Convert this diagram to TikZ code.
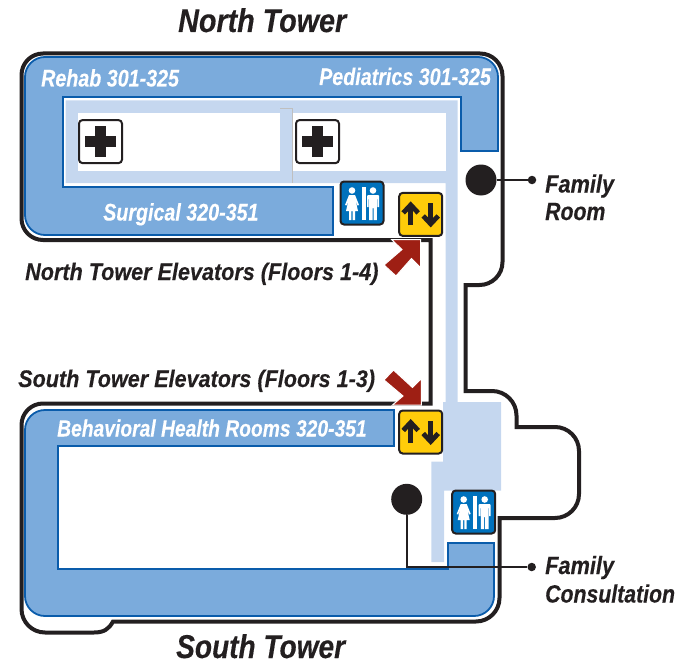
\documentclass[tikz,border=0pt]{standalone}
\usepackage{fontspec}
\setmainfont{Liberation Sans}
\newfontfamily\fsA[FakeStretch=0.82,FakeBold=0.2]{Liberation Sans}
\newfontfamily\fsB[FakeStretch=0.85,FakeBold=0.25]{Liberation Sans}
\newfontfamily\fsC[FakeStretch=0.87,FakeBold=0.25]{Liberation Sans}
\newfontfamily\fsD[FakeStretch=0.90,FakeBold=0.25]{Liberation Sans}
\definecolor{band}{HTML}{7BABDC}
\definecolor{bandline}{HTML}{0A5CAB}
\definecolor{hall}{HTML}{C5D7EF}
\definecolor{ink}{HTML}{231F20}
\definecolor{wc}{HTML}{0071BC}
\definecolor{lift}{HTML}{FFCC0A}
\definecolor{pointer}{HTML}{9E1F14}
\tikzset{
  bandshape/.style={fill=band,draw=bandline,line width=1.8pt,line join=miter},
  wall/.style={draw=ink,line width=4pt,line join=miter},
  iconbox/.style={rectangle,rounded corners=3.5pt,draw=ink,line width=2pt,minimum width=43pt,minimum height=43pt,inner sep=0pt},
  bigdot/.style={circle,fill=ink,minimum size=31pt,inner sep=0pt},
  smalldot/.style={circle,fill=ink,minimum size=8.5pt,inner sep=0pt},
  lead/.style={draw=ink,line width=1.8pt},
  redarrow/.style={fill=pointer,draw=white,line width=1pt,line join=miter},
  txt/.style={anchor=base west,inner sep=0pt}
}
\newcommand{\txtfont}[2]{#1\bfseries\itshape\fontsize{#2}{#2}\selectfont}
\newcommand{\plusicon}[3]{%
  \node[iconbox,fill=white] (#1) at (#2,#3) {};
  \fill[ink] (#2-15.5,#3-5.5) rectangle (#2+15.5,#3+5.5);
  \fill[ink] (#2-5.5,#3-15.5) rectangle (#2+5.5,#3+15.5);
}
\newcommand{\lifticon}[3]{%
  \node[iconbox,fill=lift] (#1) at (#2,#3) {};
  \begin{scope}[shift={(#2,#3)},draw=ink,line width=4.8pt,line join=miter]
    \draw (-10,11) -- (-10,-9);
    \draw (-17.5,-1.5) -- (-10,-9.5) -- (-2.5,-1.5);
    \draw (10,-11) -- (10,9);
    \draw (2.5,1.5) -- (10,9.5) -- (17.5,1.5);
  \end{scope}
}
\newcommand{\wcicon}[3]{%
  \node[iconbox,fill=wc] (#1) at (#2,#3) {};
  \begin{scope}[shift={(#2,#3)}]
    \fill[white] (-0.5,-16) rectangle (3.5,17);
    \fill[white] (-10,-12.5) circle (3.3);
    \fill[white] (-13,-8) -- (-7,-8) -- (-3,2) -- (-4.5,2.5) -- (-6.5,-3) -- (-4,8) -- (-7,8) -- (-7,17) -- (-9.3,17) -- (-9.3,8) -- (-10.7,8) -- (-10.7,17) -- (-13,17) -- (-13,8) -- (-16,8) -- (-13.5,-3) -- (-15.5,2.5) -- (-17,2) -- cycle;
    \fill[white] (11,-12.5) circle (3.3);
    \fill[white] (6,-8) -- (16,-8) -- (17,-7) -- (17,4) -- (15.3,4) -- (15.3,-4) -- (14.8,-4) -- (14.8,17) -- (11.5,17) -- (11.5,5) -- (10.5,5) -- (10.5,17) -- (7.2,17) -- (7.2,-4) -- (6.7,-4) -- (6.7,4) -- (5,4) -- (5,-7) -- cycle;
  \end{scope}
}
\begin{document}
\begin{tikzpicture}[x=1pt,y=-1pt]
\useasboundingbox (0,0) rectangle (698,666);
% hall floor, north
\fill[hall] (65.5,100.5) -- (457.5,100.5) -- (457.5,402) -- (501,402) -- (501,490.7) -- (444,490.7) -- (444,562) -- (431.3,562) -- (431.3,461.7) -- (443,461.7) -- (443,402) -- (445.5,402) -- (445.5,183) -- (65.5,183) -- cycle;
\fill[white] (78,112.7) rectangle (280,170.7);
\fill[white] (293,112.7) rectangle (445.5,170.7);
\fill[hall] (280,108) rectangle (292.7,183);
\draw[draw=black!25,line width=.6pt] (280,108) -- (292.7,108) -- (292.7,183);
% bands
\draw[bandshape] (498,151) -- (498,77) arc[start angle=0,end angle=-90,radius=20] -- (45,57) arc[start angle=270,end angle=180,radius=20] -- (25,215) arc[start angle=180,end angle=90,radius=20] -- (333,235) -- (333,187) -- (63,187) -- (63,97) -- (461,97) -- (461,151) -- cycle;
\draw[bandshape] (494,543) -- (494,596) arc[start angle=0,end angle=90,radius=20] -- (45,616) arc[start angle=90,end angle=180,radius=20] -- (25,430) arc[start angle=180,end angle=270,radius=20] -- (394,410) -- (394,446) -- (58,446) -- (58,569) -- (448,569) -- (448,543) -- cycle;
% walls
\draw[wall] (430.5,240) -- (43,240) arc[start angle=90,end angle=180,radius=21.5] -- (21.5,75) arc[start angle=180,end angle=270,radius=21.5] -- (480,53.5) arc[start angle=-90,end angle=0,radius=22.5] -- (502.5,262) arc[start angle=0,end angle=90,radius=23] -- (465.5,285) -- (465.5,391) -- (492,391) arc[start angle=-90,end angle=0,radius=24.5] -- (516.5,427) -- (555,427) arc[start angle=-90,end angle=0,radius=24] -- (579,494) arc[start angle=0,end angle=90,radius=24] -- (499.5,518) -- (499.5,598) arc[start angle=0,end angle=90,radius=23.5] -- (113,621.5) .. controls (109,629) and (104,632.5) .. (94,632.5) -- (45,632.5) arc[start angle=90,end angle=180,radius=23.5] -- (21.5,425) arc[start angle=180,end angle=270,radius=21.5] -- (430.5,403.5) -- cycle;
% pointers
\draw[redarrow] (391.5,239.5) -- (420.5,239.5) -- (420.5,267.5) -- (411.5,258.5) -- (396,276) -- (384,265) -- (402,249.5) -- cycle;
\draw[redarrow] (392.5,405) -- (421.3,405) -- (421.3,378.5) -- (412.5,387.5) -- (393.5,370) -- (384,380) -- (403,396) -- cycle;
% icons
\plusicon{care1}{100.5}{141.6}
\plusicon{care2}{317.5}{141.6}
\wcicon{wcn}{362}{203}
\lifticon{liftn}{420.7}{214.4}
\lifticon{lifts}{420.7}{432}
\wcicon{wcs}{473.7}{512}
% family dots
\node[bigdot] (room) at (481,180) {};
\node[smalldot] (roomend) at (532,180) {};
\draw[lead] (room) -- (roomend);
\node[bigdot] (consult) at (406.7,499.3) {};
\node[smalldot] (consultend) at (531.7,567) {};
\draw[lead] (consult) |- (consultend);
% text
\node[txt,text=ink] (tn) at (178,32) {\txtfont{\fsC}{33}North Tower};
\node[txt,text=ink] (ts) at (176,658) {\txtfont{\fsB}{33}South Tower};
\node[txt,text=white] (l1) at (41,86.5) {\txtfont{\fsA}{24}Rehab 301-325};
\node[txt,text=white] (l2) at (319,85) {\txtfont{\fsA}{24}Pediatrics 301-325};
\node[txt,text=white] (l3) at (103,220.5) {\txtfont{\fsA}{24}Surgical 320-351};
\node[txt,text=white] (l4) at (57,436.5) {\txtfont{\fsA}{23.5}Behavioral Health Rooms 320-351};
\node[txt,text=ink] (e1) at (25,280) {\txtfont{\fsD}{24}North Tower Elevators (Floors 1-4)};
\node[txt,text=ink] (e2) at (18,387) {\txtfont{\fsD}{24}South Tower Elevators (Floors 1-3)};
\node[txt,text=ink] (f1) at (545,192.5) {\txtfont{\fsC}{25}Family};
\node[txt,text=ink] (f2) at (545,220) {\txtfont{\fsB}{25}Room};
\node[txt,text=ink] (f3) at (545,574) {\txtfont{\fsC}{25}Family};
\node[txt,text=ink] (f4) at (545,602.5) {\txtfont{\fsB}{25}Consultation};
\end{tikzpicture}
\end{document}
